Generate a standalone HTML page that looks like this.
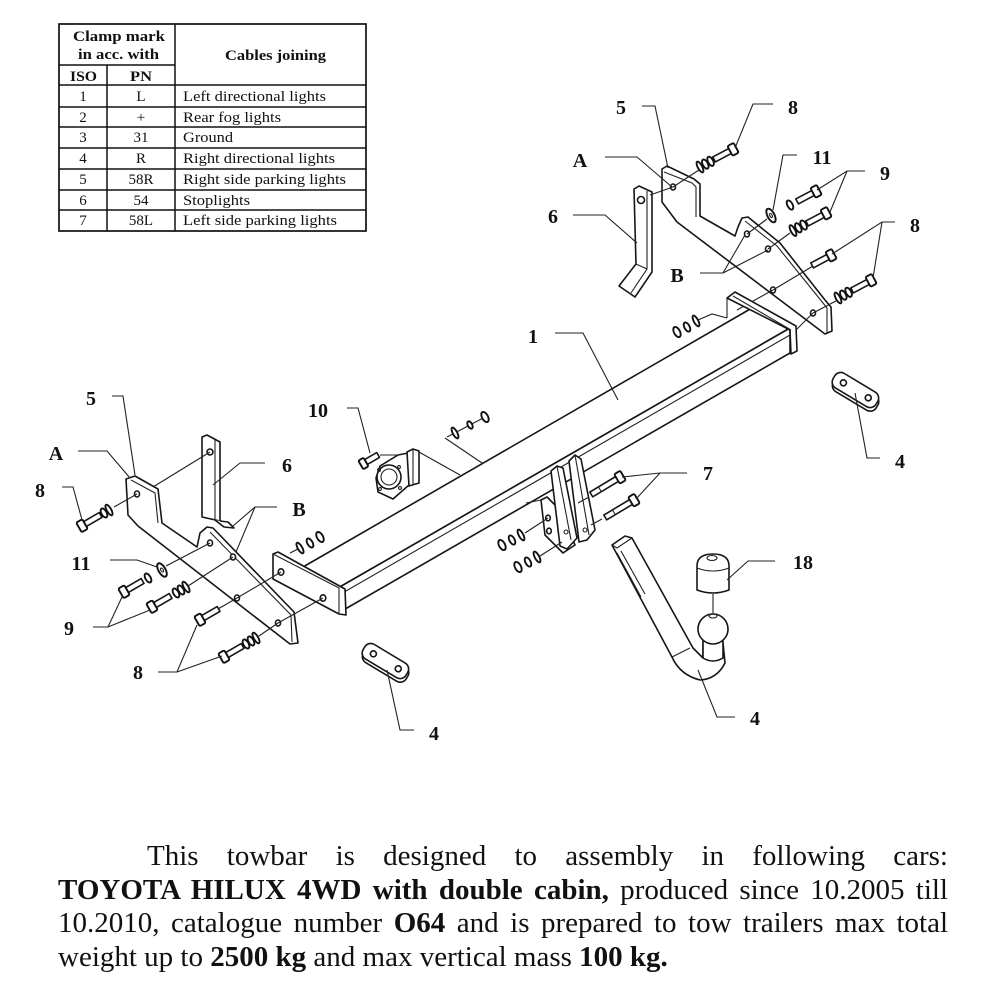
<!DOCTYPE html>
<html><head><meta charset="utf-8">
<style>
html,body{margin:0;padding:0;background:#fff;}
body{width:1000px;height:994px;position:relative;overflow:hidden;font-family:"Liberation Serif",serif;}
svg{position:absolute;left:0;top:0;}
.p{position:absolute;left:58px;width:890px;font-size:29px;line-height:33.5px;color:#111;height:34px;}
.j{text-align:justify;text-align-last:justify;}
b{font-weight:bold;}
</style></head><body>
<svg width="1000" height="994" viewBox="0 0 1000 994">
<style>
.o{fill:#fff;stroke:#161616;stroke-width:1.6;stroke-linejoin:round}
.l{fill:none;stroke:#222;stroke-width:1.1}
.n{fill:#fff;stroke:#111;stroke-width:1.9}
.t{font-family:"Liberation Serif",serif;font-weight:bold;font-size:20px;fill:#111}
.tb{font-family:"Liberation Serif",serif;font-size:15px;fill:#111}
.tl{stroke:#111;stroke-width:1.5}
</style>

<!-- TABLE -->
<rect x="59" y="24" width="307" height="207" fill="none" stroke="#111" stroke-width="1.7"/>
<line class="tl" x1="175" y1="24" x2="175" y2="231"/>
<line class="tl" x1="107" y1="65" x2="107" y2="231"/>
<line class="tl" x1="59" y1="65" x2="175" y2="65"/>
<line class="tl" x1="59" y1="85" x2="366" y2="85"/>
<line class="tl" x1="59" y1="107" x2="366" y2="107"/>
<line class="tl" x1="59" y1="127" x2="366" y2="127"/>
<line class="tl" x1="59" y1="148" x2="366" y2="148"/>
<line class="tl" x1="59" y1="169" x2="366" y2="169"/>
<line class="tl" x1="59" y1="190" x2="366" y2="190"/>
<line class="tl" x1="59" y1="210" x2="366" y2="210"/>
<g class="tb">
<text x="73" y="41" font-weight="bold" textLength="92" lengthAdjust="spacingAndGlyphs">Clamp mark</text>
<text x="78" y="59" font-weight="bold" textLength="81" lengthAdjust="spacingAndGlyphs">in acc. with</text>
<text x="225" y="60" font-weight="bold" textLength="101" lengthAdjust="spacingAndGlyphs">Cables joining</text>
<text x="70" y="81" font-weight="bold" textLength="27" lengthAdjust="spacingAndGlyphs">ISO</text>
<text x="130" y="81" font-weight="bold" textLength="22" lengthAdjust="spacingAndGlyphs">PN</text>
<text x="83" y="101" text-anchor="middle">1</text><text x="141" y="101" text-anchor="middle">L</text><text x="183" y="101" textLength="143" lengthAdjust="spacingAndGlyphs">Left directional lights</text>
<text x="83" y="122" text-anchor="middle">2</text><text x="141" y="122" text-anchor="middle">+</text><text x="183" y="122" textLength="98" lengthAdjust="spacingAndGlyphs">Rear fog lights</text>
<text x="83" y="142" text-anchor="middle">3</text><text x="141" y="142" text-anchor="middle">31</text><text x="183" y="142" textLength="50" lengthAdjust="spacingAndGlyphs">Ground</text>
<text x="83" y="163" text-anchor="middle">4</text><text x="141" y="163" text-anchor="middle">R</text><text x="183" y="163" textLength="152" lengthAdjust="spacingAndGlyphs">Right directional lights</text>
<text x="83" y="184" text-anchor="middle">5</text><text x="141" y="184" text-anchor="middle">58R</text><text x="183" y="184" textLength="163" lengthAdjust="spacingAndGlyphs">Right side parking lights</text>
<text x="83" y="205" text-anchor="middle">6</text><text x="141" y="205" text-anchor="middle">54</text><text x="183" y="205" textLength="67" lengthAdjust="spacingAndGlyphs">Stoplights</text>
<text x="83" y="225" text-anchor="middle">7</text><text x="141" y="225" text-anchor="middle">58L</text><text x="183" y="225" textLength="154" lengthAdjust="spacingAndGlyphs">Left side parking lights</text>
</g>

<!-- RIGHT BRACKET 5 -->
<polygon class="o" points="662,169 667,166 694,179 700,184 700,216 735,236 738,227 742,218 748,217 780,243 825,300 831,307 832,331 825,334 677,222 662,202"/>
<polyline class="l" points="664,172 692,183 696,187 696,217"/>
<polyline class="l" points="745,221 777,246 823,303 827,308 827,333"/>
<ellipse class="o" cx="673" cy="187" rx="2.5" ry="3"/>
<ellipse class="o" cx="747" cy="234" rx="2.5" ry="3"/>
<ellipse class="o" cx="768" cy="249" rx="2.5" ry="3"/>
<ellipse class="o" cx="773" cy="290" rx="2.5" ry="3"/>
<ellipse class="o" cx="813" cy="313" rx="2.5" ry="3"/>

<!-- RIGHT STRAP 6 -->
<polygon class="o" points="634,189 639,186 652,192 652,272 635,297 619,286 636,264"/>
<polyline class="l" points="647,191 647,269 631,293"/>
<line class="l" x1="636" y1="264" x2="647" y2="269"/>
<circle class="o" cx="641" cy="200" r="3.5"/>
<line class="l" x1="650" y1="195" x2="673" y2="187"/>

<!-- right axis lines -->
<line class="l" x1="702" y1="168" x2="673" y2="187"/>
<line class="l" x1="767" y1="219" x2="747" y2="234"/>
<line class="l" x1="790" y1="233" x2="768" y2="249"/>
<line class="l" x1="813" y1="266" x2="773" y2="290"/>
<line class="l" x1="836" y1="301" x2="813" y2="313"/>
<line class="l" x1="737" y1="310" x2="773" y2="290"/>
<line class="l" x1="793" y1="333" x2="813" y2="313"/>

<!-- RIGHT BOLTS -->
<g transform="translate(730,151) rotate(-28)"><rect class="o" x="-18" y="-2.8" width="18" height="5.6"/><rect class="n" x="0" y="-5.5" width="7" height="11" rx="1.5"/></g>
<g transform="translate(710.6,161.3) rotate(-28)"><ellipse class="n" rx="2.6" ry="5"/></g>
<g transform="translate(705.3,164.1) rotate(-28)"><ellipse class="n" rx="2.6" ry="5"/></g>
<g transform="translate(700,167) rotate(-28)"><ellipse class="n" rx="2.2" ry="6"/></g>

<g transform="translate(813,193) rotate(-28)"><rect class="o" x="-18" y="-2.8" width="18" height="5.6"/><rect class="n" x="0" y="-5.5" width="7" height="11" rx="1.5"/></g>
<g transform="translate(790,205) rotate(-28)"><ellipse class="n" rx="2.6" ry="5"/></g>
<g transform="translate(771,215.5) rotate(-28)"><ellipse class="n" rx="3.5" ry="7.5"/><ellipse class="l" rx="1.2" ry="2.2"/></g>

<g transform="translate(823,215) rotate(-28)"><rect class="o" x="-18" y="-2.8" width="18" height="5.6"/><rect class="n" x="0" y="-5.5" width="7" height="11" rx="1.5"/></g>
<g transform="translate(803.6,225) rotate(-28)"><ellipse class="n" rx="2.6" ry="5"/></g>
<g transform="translate(798.3,227.8) rotate(-28)"><ellipse class="n" rx="2.6" ry="5"/></g>
<g transform="translate(793,230.6) rotate(-28)"><ellipse class="n" rx="2.2" ry="6"/></g>

<g transform="translate(828,257) rotate(-28)"><rect class="o" x="-18" y="-2.8" width="18" height="5.6"/><rect class="n" x="0" y="-5.5" width="7" height="11" rx="1.5"/></g>

<g transform="translate(868,282) rotate(-28)"><rect class="o" x="-18" y="-2.8" width="18" height="5.6"/><rect class="n" x="0" y="-5.5" width="7" height="11" rx="1.5"/></g>
<g transform="translate(848.6,292.3) rotate(-28)"><ellipse class="n" rx="2.6" ry="5"/></g>
<g transform="translate(843.3,295.1) rotate(-28)"><ellipse class="n" rx="2.6" ry="5"/></g>
<g transform="translate(838,298) rotate(-28)"><ellipse class="n" rx="2.2" ry="6"/></g>

<!-- right beam nuts -->
<polyline class="l" points="698,320 712,314 727,318"/>
<g transform="translate(677,332) rotate(-28)"><ellipse class="n" rx="3" ry="5.5"/></g>
<g transform="translate(687,327) rotate(-28)"><ellipse class="n" rx="2.6" ry="5"/></g>
<g transform="translate(696,321) rotate(-28)"><ellipse class="n" rx="2.2" ry="6"/></g>

<!-- BEAM -->
<polygon class="o" points="303,567 752,308 790,328 338,588"/>
<polygon class="o" points="338,588 790,328 790,353 340,612"/>
<line class="l" x1="339" y1="595" x2="790" y2="335"/>
<!-- right plate -->
<polygon class="o" points="727,298 735,292 796,326 797,351 791,354 790,330"/>
<line class="l" x1="733" y1="296" x2="791" y2="330"/>
<line class="l" x1="727" y1="298" x2="727" y2="318"/>

<!-- LEFT BRACKET 5 -->
<polygon class="o" points="126,479 135,476 158,489 162,523 197,547 200,533 207,527 213,528 294,612 298,643 290,644 138,526 128,515"/>
<polyline class="l" points="131,480 155,493 158,523"/>
<polyline class="l" points="210,532 291,615 292,642"/>
<ellipse class="o" cx="137" cy="494" rx="2.5" ry="3"/>
<ellipse class="o" cx="210" cy="543" rx="2.5" ry="3"/>
<ellipse class="o" cx="233" cy="557" rx="2.5" ry="3"/>
<ellipse class="o" cx="237" cy="598" rx="2.5" ry="3"/>
<ellipse class="o" cx="278" cy="623" rx="2.5" ry="3"/>

<!-- LEFT PLATE -->
<polygon class="o" points="273,554 278,552 345,589 346,615 339,614 273,579"/>
<polyline class="l" points="273,554 339,588 339,614"/>
<ellipse class="o" cx="281" cy="572" rx="2.8" ry="3.2"/>
<ellipse class="o" cx="323" cy="598" rx="2.8" ry="3.2"/>

<!-- LEFT STRAP 6 -->
<polygon class="o" points="202,437 207,435 220,442 220,521 202,517"/>
<polyline class="l" points="215,440 215,520"/>
<polyline class="o" points="215,520 224,527 234,528 228,522 220,521"/>
<circle class="o" cx="210" cy="452" r="3"/>
<line class="l" x1="210" y1="452" x2="153" y2="487"/>

<!-- left axis lines -->
<line class="l" x1="114" y1="507" x2="137" y2="494"/>
<line class="l" x1="166" y1="566" x2="210" y2="543"/>
<line class="l" x1="188" y1="586" x2="233" y2="557"/>
<line class="l" x1="218" y1="609" x2="237" y2="598"/>
<line class="l" x1="259" y1="636" x2="278" y2="623"/>
<line class="l" x1="237" y1="598" x2="281" y2="572"/>
<line class="l" x1="278" y1="623" x2="323" y2="598"/>
<line class="l" x1="300" y1="548" x2="290" y2="553"/>

<!-- LEFT BOLTS -->
<g transform="translate(85,524) rotate(150)"><rect class="o" x="-18" y="-2.8" width="18" height="5.6"/><rect class="n" x="0" y="-5.5" width="7" height="11" rx="1.5"/></g>
<g transform="translate(104,513) rotate(150)"><ellipse class="n" rx="2.6" ry="5"/></g>
<g transform="translate(109,510) rotate(150)"><ellipse class="n" rx="2.2" ry="6"/></g>

<g transform="translate(127,590) rotate(150)"><rect class="o" x="-18" y="-2.8" width="18" height="5.6"/><rect class="n" x="0" y="-5.5" width="7" height="11" rx="1.5"/></g>
<g transform="translate(148,578) rotate(150)"><ellipse class="n" rx="2.6" ry="5"/></g>
<g transform="translate(162,570) rotate(150)"><ellipse class="n" rx="3.5" ry="7.5"/><ellipse class="l" rx="1.2" ry="2.2"/></g>

<g transform="translate(155,605) rotate(150)"><rect class="o" x="-18" y="-2.8" width="18" height="5.6"/><rect class="n" x="0" y="-5.5" width="7" height="11" rx="1.5"/></g>
<g transform="translate(176,593) rotate(150)"><ellipse class="n" rx="2.6" ry="5"/></g>
<g transform="translate(181,590) rotate(150)"><ellipse class="n" rx="2.6" ry="5"/></g>
<g transform="translate(186,587) rotate(150)"><ellipse class="n" rx="2.2" ry="6"/></g>

<g transform="translate(203,618) rotate(150)"><rect class="o" x="-18" y="-2.8" width="18" height="5.6"/><rect class="n" x="0" y="-5.5" width="7" height="11" rx="1.5"/></g>

<g transform="translate(227,655) rotate(150)"><rect class="o" x="-18" y="-2.8" width="18" height="5.6"/><rect class="n" x="0" y="-5.5" width="7" height="11" rx="1.5"/></g>
<g transform="translate(246,644) rotate(150)"><ellipse class="n" rx="2.6" ry="5"/></g>
<g transform="translate(251,641) rotate(150)"><ellipse class="n" rx="2.6" ry="5"/></g>
<g transform="translate(256,638) rotate(150)"><ellipse class="n" rx="2.2" ry="6"/></g>

<!-- left beam nuts -->
<g transform="translate(300,548) rotate(150)"><ellipse class="n" rx="2.2" ry="6"/></g>
<g transform="translate(310,543) rotate(150)"><ellipse class="n" rx="2.6" ry="5"/></g>
<g transform="translate(320,537) rotate(150)"><ellipse class="n" rx="3" ry="5.5"/></g>

<!-- CONNECTOR 10 -->
<line class="l" x1="419" y1="452" x2="460" y2="475"/>
<line class="l" x1="445" y1="438" x2="482" y2="463"/>
<line class="l" x1="447" y1="437" x2="487" y2="416"/>
<g transform="translate(455,433) rotate(-28)"><ellipse class="n" rx="2.2" ry="6"/></g>
<g transform="translate(470,425) rotate(-28)"><ellipse class="n" rx="2.2" ry="4"/></g>
<g transform="translate(485,417) rotate(-28)"><ellipse class="n" rx="3" ry="5.5"/></g>
<path class="o" d="M376,478 L380,466 L398,455 L408,453 L409,485 L393,499 L378,492 Z"/>
<circle class="o" cx="389" cy="477" r="12"/>
<circle class="l" cx="389" cy="477" r="8"/>
<circle class="l" cx="379" cy="470" r="1.4"/>
<circle class="l" cx="399" cy="467" r="1.4"/>
<circle class="l" cx="400" cy="488" r="1.4"/>
<circle class="l" cx="380" cy="489" r="1.4"/>
<polygon class="o" points="407,452 413,449 419,451 419,483 409,486"/>
<line class="l" x1="413" y1="449" x2="413" y2="484"/>
<line class="l" x1="380" y1="455" x2="398" y2="455"/>
<g transform="translate(366,462) rotate(150)"><rect class="o" x="-14" y="-2.8" width="14" height="5.6"/><rect class="n" x="0" y="-5" width="6" height="10" rx="1.5"/></g>

<!-- MIDDLE BRACKET 7 -->
<line class="l" x1="526" y1="503" x2="541" y2="500"/>
<polygon class="o" points="541,500 547,497 560,510 575,545 563,553 545,535"/>
<ellipse class="o" cx="548" cy="518" rx="2.3" ry="2.8"/>
<ellipse class="o" cx="549" cy="531" rx="2.3" ry="2.8"/>
<ellipse class="o" cx="562" cy="542" rx="2.3" ry="2.8"/>
<polygon class="o" points="551,471 557,466 563,468 577,538 567,549 560,546"/>
<line class="l" x1="557" y1="466" x2="571" y2="540"/>
<polygon class="o" points="569,461 575,455 581,459 595,530 587,540 579,542"/>
<line class="l" x1="575" y1="455" x2="589" y2="535"/>
<circle class="l" cx="566" cy="532" r="2"/>
<circle class="l" cx="585" cy="530" r="2"/>
<line class="l" x1="525" y1="533" x2="548" y2="518"/>
<line class="l" x1="540" y1="556" x2="562" y2="542"/>
<g transform="translate(502,545) rotate(-28)"><ellipse class="n" rx="3" ry="5.5"/></g>
<g transform="translate(512,540) rotate(-28)"><ellipse class="n" rx="2.6" ry="5"/></g>
<g transform="translate(521,535) rotate(-28)"><ellipse class="n" rx="2.2" ry="6"/></g>
<g transform="translate(518,567) rotate(-28)"><ellipse class="n" rx="3" ry="5.5"/></g>
<g transform="translate(528,562) rotate(-28)"><ellipse class="n" rx="2.6" ry="5"/></g>
<g transform="translate(537,557) rotate(-28)"><ellipse class="n" rx="2.2" ry="6"/></g>
<line class="l" x1="589" y1="497" x2="578" y2="503"/>
<line class="l" x1="602" y1="519" x2="591" y2="525"/>
<g transform="translate(617,479) rotate(-31)"><rect class="o" x="-30" y="-2.8" width="30" height="5.6"/><line class="l" x1="-20" y1="-2.8" x2="-20" y2="2.8"/><rect class="n" x="0" y="-5.5" width="7" height="11" rx="1.5"/></g>
<g transform="translate(631,502) rotate(-31)"><rect class="o" x="-30" y="-2.8" width="30" height="5.6"/><line class="l" x1="-20" y1="-2.8" x2="-20" y2="2.8"/><rect class="n" x="0" y="-5.5" width="7" height="11" rx="1.5"/></g>

<!-- DRAWBAR -->
<path class="o" d="M612,545 L672,657 Q680,675 700,680 Q717,679 725,663 L723,643 L703,643 L703,658 L693,648 L632,538 L625,536 Z"/>
<polyline class="l" points="612,545 617,548 632,538"/>
<line class="l" x1="617" y1="553" x2="641" y2="597"/>
<line class="l" x1="621" y1="551" x2="645" y2="594"/>
<line class="l" x1="672" y1="657" x2="690" y2="648"/>
<path class="o" d="M703,641 L703,658 Q713,664 723,658 L723,641 Z"/>
<circle class="o" cx="713" cy="629" r="15"/>
<ellipse class="l" cx="713" cy="616" rx="4" ry="2"/>
<line class="l" x1="713" y1="594" x2="713" y2="614"/>
<path class="o" d="M697,590 L697,566 Q697,554 713,554 Q729,554 729,566 L729,590 Q713,596 697,590 Z"/>
<ellipse class="l" cx="712" cy="558" rx="5" ry="2.5"/>
<path class="l" d="M697,568 Q713,574 729,568"/>

<!-- PLATES 4 -->
<g transform="translate(856,391) rotate(31)"><rect class="o" x="-24" y="-6" width="50" height="17" rx="7"/><rect class="o" x="-26" y="-9" width="50" height="17" rx="7"/><circle class="o" cx="-15" cy="-0.5" r="3"/><circle class="o" cx="14" cy="-0.5" r="3"/></g>
<g transform="translate(386,662) rotate(31)"><rect class="o" x="-24" y="-6" width="50" height="17" rx="7"/><rect class="o" x="-26" y="-9" width="50" height="17" rx="7"/><circle class="o" cx="-15" cy="-0.5" r="3"/><circle class="o" cx="14" cy="-0.5" r="3"/></g>

<!-- LEADERS -->
<polyline class="l" points="642,106 655,106 668,168"/>
<polyline class="l" points="773,104 753,104 735,148"/>
<polyline class="l" points="605,157 637,157 672,187"/>
<polyline class="l" points="573,215 605,215 637,243"/>
<polyline class="l" points="797,155 783,155 773,210"/>
<polyline class="l" points="865,171 847,171 817,190"/>
<line class="l" x1="847" y1="171" x2="830" y2="212"/>
<polyline class="l" points="895,222 882,222 832,254"/>
<line class="l" x1="882" y1="222" x2="873" y2="278"/>
<polyline class="l" points="700,273 723,273 745,235"/>
<line class="l" x1="723" y1="273" x2="768" y2="250"/>
<polyline class="l" points="555,333 583,333 618,400"/>
<polyline class="l" points="855,393 867,458 880,458"/>
<polyline class="l" points="687,473 660,473 622,477"/>
<line class="l" x1="660" y1="473" x2="636" y2="499"/>
<polyline class="l" points="775,561 748,561 727,580"/>
<polyline class="l" points="735,717 717,717 698,670"/>
<polyline class="l" points="387,670 400,730 414,730"/>
<polyline class="l" points="112,396 123,396 135,475"/>
<polyline class="l" points="78,451 107,451 130,478"/>
<polyline class="l" points="62,487 73,487 82,520"/>
<polyline class="l" points="265,463 240,463 213,485"/>
<polyline class="l" points="277,507 255,507 233,526"/>
<line class="l" x1="255" y1="507" x2="236" y2="552"/>
<polyline class="l" points="110,560 137,560 157,567"/>
<polyline class="l" points="93,627 108,627 122,597"/>
<line class="l" x1="108" y1="627" x2="150" y2="610"/>
<polyline class="l" points="158,672 177,672 197,625"/>
<line class="l" x1="177" y1="672" x2="222" y2="656"/>
<polyline class="l" points="347,408 358,408 370,453"/>

<!-- LABELS -->
<g class="t" text-anchor="middle">
<text x="621" y="114">5</text>
<text x="793" y="114">8</text>
<text x="580" y="167">A</text>
<text x="822" y="164">11</text>
<text x="885" y="180">9</text>
<text x="553" y="223">6</text>
<text x="915" y="232">8</text>
<text x="677" y="282">B</text>
<text x="533" y="343">1</text>
<text x="91" y="405">5</text>
<text x="318" y="417">10</text>
<text x="56" y="460">A</text>
<text x="287" y="472">6</text>
<text x="40" y="497">8</text>
<text x="708" y="480">7</text>
<text x="900" y="468">4</text>
<text x="299" y="516">B</text>
<text x="81" y="570">11</text>
<text x="803" y="569">18</text>
<text x="69" y="635">9</text>
<text x="138" y="679">8</text>
<text x="434" y="740">4</text>
<text x="755" y="725">4</text>
</g>
</svg>

<div class="p j" style="top:840px;left:147px;width:801px">This towbar is designed to assembly in following cars:</div>
<div class="p j" style="top:873.5px"><b>TOYOTA HILUX 4WD with double cabin,</b> produced since 10.2005 till</div>
<div class="p j" style="top:907px">10.2010, catalogue number <b>O64</b> and is prepared to tow trailers max total</div>
<div class="p" style="top:940.5px">weight up to <b>2500 kg</b> and max vertical mass <b>100 kg.</b></div>
</body></html>
